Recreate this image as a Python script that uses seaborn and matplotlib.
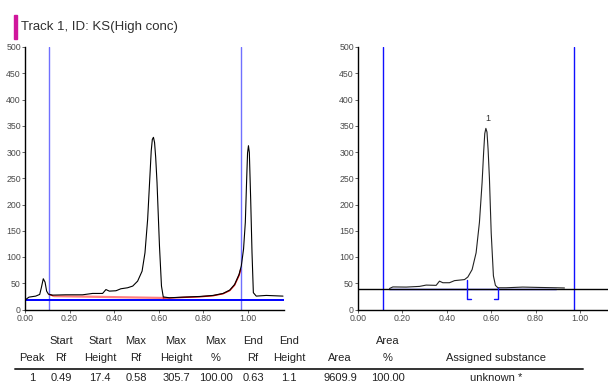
import numpy as np
import pandas as pd
import matplotlib
matplotlib.use("Agg")
import matplotlib.pyplot as plt
from matplotlib.patches import Rectangle
from matplotlib.lines import Line2D
import seaborn as sns

sns.set_style("ticks")
plt.rcParams["font.family"] = ["Liberation Sans", "DejaVu Sans"]

# ---------------- data ----------------
title = "Track 1, ID: KS(High conc)"

# left panel: raw densitogram
left_rf = [0.003, 0.018, 0.048, 0.066, 0.073, 0.082, 0.09, 0.097, 0.105, 0.123,
           0.183, 0.258, 0.303, 0.348, 0.363, 0.378, 0.408, 0.43, 0.46, 0.483,
           0.505, 0.525, 0.538, 0.55, 0.561, 0.566, 0.571, 0.576, 0.581, 0.586,
           0.592, 0.603, 0.612, 0.62, 0.648, 0.708, 0.783, 0.843, 0.888, 0.918,
           0.94, 0.96, 0.97, 0.98, 0.988, 0.994, 0.998, 1.002, 1.006, 1.012,
           1.018, 1.024, 1.037, 1.082, 1.157]
left_int = [19, 23.6, 25.5, 28.7, 41, 58.6, 52, 35, 29.3, 27.4,
            28, 28, 30.6, 30.6, 38, 35, 35.7, 39.5, 41.4, 44.6,
            54, 73, 108, 172, 261, 302, 324, 328, 318, 290,
            242, 121, 44.6, 24, 22.3, 23.6, 24.8, 26.8, 30.6, 37,
            47.8, 67, 83, 115, 166, 248, 298, 312, 299, 210,
            108, 32, 25.5, 26.8, 25.5]

# left panel: baseline (red) estimate
red_rf = [0.108, 0.13, 0.62, 0.648, 0.708, 0.783, 0.843, 0.888, 0.918, 0.94, 0.96, 0.967]
red_int = [28.7, 25.5, 22.0, 22.0, 23.0, 24.2, 26.2, 30.0, 36.0, 46.5, 65, 76]

left_markers = [0.108, 0.967]
left_flat = 19

# right panel: baseline-corrected track
right_rf = [0.142, 0.157, 0.217, 0.277, 0.307, 0.352, 0.367, 0.382, 0.412, 0.435,
            0.48, 0.495, 0.514, 0.532, 0.547, 0.559, 0.566, 0.571, 0.576, 0.581,
            0.586, 0.592, 0.6, 0.61, 0.619, 0.63, 0.667, 0.742, 0.817, 0.892, 0.93]
right_int = [40, 43, 42.7, 44, 46.5, 46, 54, 51, 51, 55,
             57, 62, 76, 108, 166, 242, 300, 335, 345, 338,
             305, 250, 146, 64, 46, 41.4, 41.4, 42.7, 42, 41.4, 41]
right_markers = [0.114, 0.974]
right_base = 40
peak_start_rf, peak_end_rf = 0.49, 0.63
peak_start_h, peak_end_h = 57, 41
peak_label_rf, peak_label_h = 0.583, 355

# table
hdr1 = ["", "Start", "Start", "Max", "Max", "Max", "End", "End", "", "Area", ""]
hdr2 = ["Peak", "Rf", "Height", "Rf", "Height", "%", "Rf", "Height", "Area", "%",
        "Assigned substance"]
row1 = ["1", "0.49", "17.4", "0.58", "305.7", "100.00", "0.63", "1.1", "9609.9",
        "100.00", "unknown *"]
col_x = [32, 61, 100, 136, 176, 216, 253, 289, 340, 388, 496]

# ---------------- figure ----------------
W, H = 608, 385
fig = plt.figure(figsize=(W / 100, H / 100), dpi=100)

def fx(px):
    return px / W

def fy(py):
    return 1 - py / H

tick_col = "#4a4a4a"

def style_axes(ax, xmax):
    ax.set_xlim(0, xmax)
    ax.set_ylim(0, 500)
    ax.set_xticks([0, 0.2, 0.4, 0.6, 0.8, 1.0])
    ax.set_xticklabels(["0.00", "0.20", "0.40", "0.60", "0.80", "1.00"])
    ax.set_yticks(range(0, 501, 50))
    ax.tick_params(axis="both", labelsize=6.3, colors=tick_col, length=2,
                   width=0.6, pad=1)
    for s in ["top", "right"]:
        ax.spines[s].set_visible(False)
    for s in ["left", "bottom"]:
        ax.spines[s].set_color("black")
        ax.spines[s].set_linewidth(1.0)
    ax.set_xlabel("")
    ax.set_ylabel("")
    ax.patch.set_alpha(0)

# left axes
axL = fig.add_axes([fx(25), fy(309.5), fx(284 - 25), (309.5 - 47) / H])
dfL = pd.DataFrame({"rf": left_rf, "int": left_int})
axL.axhline(left_flat, color="#0000ff", lw=1.4, zorder=2)
for m in left_markers:
    axL.axvline(m, color="#7070ff", lw=1.0, zorder=1)
dfR = pd.DataFrame({"rf": red_rf, "int": red_int})
sns.lineplot(data=dfR.iloc[:2], x="rf", y="int", ax=axL, color="#e00000", lw=1.0,
             sort=False, estimator=None, zorder=3)
sns.lineplot(data=dfR.iloc[1:3], x="rf", y="int", ax=axL, color="#ff8080", lw=1.6,
             sort=False, estimator=None, zorder=3)
sns.lineplot(data=dfR.iloc[2:], x="rf", y="int", ax=axL, color="#e00000", lw=1.0,
             sort=False, estimator=None, zorder=3)
sns.lineplot(data=dfL, x="rf", y="int", ax=axL, color="black", lw=0.8,
             sort=False, estimator=None, zorder=4)
style_axes(axL, (284 - 25) / 223)

# right axes
axR = fig.add_axes([fx(358), fy(309.5), fx(608 - 358), (309.5 - 47) / H])
for m in right_markers:
    axR.axvline(m, color="#1010ff", lw=1.0, zorder=1)
axR.plot([0.14, 0.89], [right_base - 1.5, right_base - 1.5], color="#1010ff", lw=1.0, zorder=2)
axR.axhline(right_base, color="black", lw=1.0, zorder=3)
dfRR = pd.DataFrame({"rf": right_rf, "int": right_int})
sns.lineplot(data=dfRR, x="rf", y="int", ax=axR, color="#222222", lw=0.8,
             sort=False, estimator=None, zorder=4)
# peak brackets
tick_w = 0.018
axR.plot([peak_start_rf, peak_start_rf, peak_start_rf + tick_w],
         [peak_start_h, 20, 20], color="#1010ff", lw=1.0, zorder=5)
axR.plot([peak_end_rf, peak_end_rf, peak_end_rf - tick_w],
         [peak_end_h, 20, 20], color="#1010ff", lw=1.0, zorder=5)
axR.text(peak_label_rf, peak_label_h, "1", ha="center", va="bottom", fontsize=6.5,
         color="#333333")
style_axes(axR, (608 - 358) / 222)

# title with magenta bar
fig.patches.append(Rectangle((fx(13.5), fy(39)), fx(3), (39 - 15) / H,
                             transform=fig.transFigure, color="#d0169c",
                             figure=fig))
fig.text(fx(21), fy(27), title, ha="left", va="center", fontsize=9.5,
         color="#303030")

# table
tcol = "#222222"
fs = 8
for x, t in zip(col_x, hdr1):
    if t:
        fig.text(fx(x), fy(341), t, ha="center", va="center", fontsize=fs, color=tcol)
for x, t in zip(col_x, hdr2):
    fig.text(fx(x), fy(358), t, ha="center", va="center", fontsize=fs, color=tcol)
for x, t in zip(col_x, row1):
    fig.text(fx(x), fy(378), t, ha="center", va="center", fontsize=fs, color=tcol)
fig.lines.append(Line2D([fx(15), fx(583)], [fy(369), fy(369)],
                        transform=fig.transFigure, color="#333333", lw=1.4))

fig.savefig("out.png", dpi=100)
